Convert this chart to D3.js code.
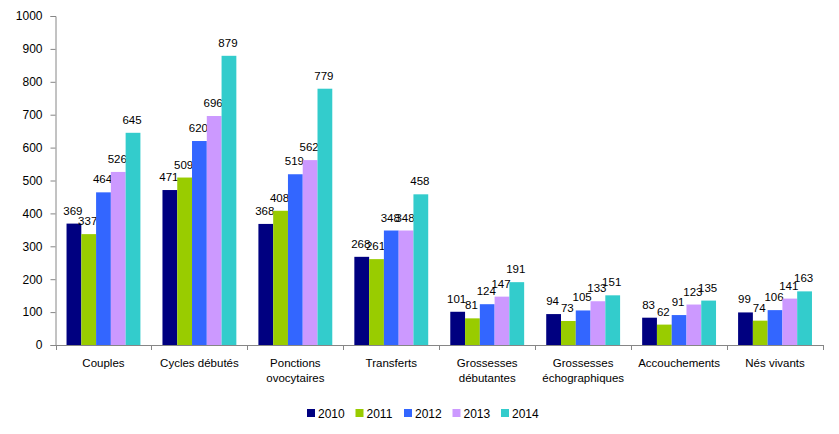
<!DOCTYPE html>
<html>
<head>
<meta charset="utf-8">
<script src="https://cdn.jsdelivr.net/npm/d3@7"></script>
<style>
  body { margin: 0; background: #fff; }
  text { font-family: "Liberation Sans", Arial, sans-serif; fill: #000; }
</style>
</head>
<body>
<svg id="chart"></svg>
<script>
// data
var categories = ["Couples", "Cycles débutés", "Ponctions\novocytaires", "Transferts",
  "Grossesses\ndébutantes", "Grossesses\néchographiques", "Accouchements", "Nés vivants"];
var years = ["2010", "2011", "2012", "2013", "2014"];
var v2010 = [369, 471, 368, 268, 101, 94, 83, 99];
var v2011 = [337, 509, 408, 261, 81, 73, 62, 74];
var v2012 = [464, 620, 519, 348, 124, 105, 91, 106];
var v2013 = [526, 696, 562, 348, 147, 133, 123, 141];
var v2014 = [645, 879, 779, 458, 191, 151, 135, 163];
var colors = ["#000080", "#99CC00", "#3366FF", "#CC99FF", "#33CCCC"];
var yTicks = [0, 100, 200, 300, 400, 500, 600, 700, 800, 900, 1000];

var series = [v2010, v2011, v2012, v2013, v2014];

var W = 839, H = 434;
var mLeft = 55.5, mRight = 823, mTop = 16, mBottom = 345;

var svg = d3.select('#chart')
  .attr('width', W)
  .attr('height', H);

var x = d3.scaleBand()
  .domain(categories)
  .range([mLeft, mRight]);

var xInner = d3.scaleBand()
  .domain(years)
  .range([x.bandwidth() * 0.115, x.bandwidth() * 0.885]);

var y = d3.scaleLinear()
  .domain([0, 1000])
  .range([mBottom, mTop]);

// bars
var groups = svg.selectAll('g.cat')
  .data(categories)
  .enter()
  .append('g')
  .attr('class', 'cat')
  .attr('transform', function (d) { return 'translate(' + x(d) + ',0)'; });

groups.each(function (c, ci) {
  var g = d3.select(this);
  years.forEach(function (yr, si) {
    var v = series[si][ci];
    g.append('rect')
      .attr('x', xInner(yr))
      .attr('y', y(v))
      .attr('width', xInner.bandwidth())
      .attr('height', mBottom - y(v))
      .attr('fill', colors[si]);
    g.append('text')
      .attr('x', xInner(yr) + xInner.bandwidth() / 2 - 1)
      .attr('y', y(v) - 9)
      .attr('text-anchor', 'middle')
      .attr('font-size', 11.5)
      .text(v);
  });
});

// y axis
var yAxis = d3.axisLeft(y).tickValues(yTicks).tickFormat(d3.format('d')).tickSize(5).tickPadding(8);
var ya = svg.append('g')
  .attr('transform', 'translate(' + mLeft + ',0)')
  .call(yAxis);
ya.select('.domain').attr('stroke', '#868686');
ya.selectAll('.tick line').attr('stroke', '#868686');
ya.selectAll('.tick text').attr('font-size', 12).attr('font-family', '"Liberation Sans", Arial, sans-serif').attr('fill', '#000');

// x axis
var xa = svg.append('g');
xa.append('line')
  .attr('x1', mLeft).attr('x2', mRight)
  .attr('y1', mBottom + 0.5).attr('y2', mBottom + 0.5)
  .attr('stroke', '#868686');
var bounds = categories.map(function (c) { return x(c); }).concat([mRight]);
xa.selectAll('line.tk')
  .data(bounds)
  .enter()
  .append('line')
  .attr('class', 'tk')
  .attr('x1', function (d) { return Math.round(d) + 0.5; })
  .attr('x2', function (d) { return Math.round(d) + 0.5; })
  .attr('y1', mBottom)
  .attr('y2', mBottom + 5)
  .attr('stroke', '#868686');

xa.selectAll('text.cl')
  .data(categories)
  .enter()
  .append('text')
  .attr('class', 'cl')
  .attr('text-anchor', 'middle')
  .attr('font-size', 11.5)
  .attr('x', function (d) { return x(d) + x.bandwidth() / 2; })
  .attr('y', 367)
  .each(function (d) {
    var t = d3.select(this);
    d.split('\n').forEach(function (line, i) {
      t.append('tspan')
        .attr('x', x(d) + x.bandwidth() / 2)
        .attr('dy', i === 0 ? 0 : 15)
        .text(line);
    });
  });

// legend
var legend = svg.append('g').attr('transform', 'translate(307,409)');
var li = legend.selectAll('g')
  .data(years)
  .enter()
  .append('g')
  .attr('transform', function (d, i) { return 'translate(' + (i * 48.5) + ',0)'; });
li.append('rect')
  .attr('width', 8).attr('height', 8)
  .attr('fill', function (d, i) { return colors[i]; });
li.append('text')
  .attr('x', 11)
  .attr('y', 8.5)
  .attr('font-size', 12)
  .text(function (d) { return d; });
</script>
</body>
</html>
